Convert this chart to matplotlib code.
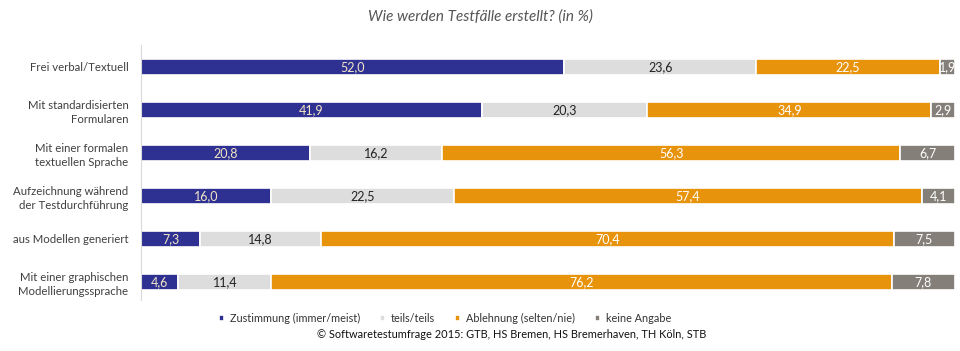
import numpy as np
import matplotlib.pyplot as plt

plt.rcParams['font.family'] = ['Lato', 'DejaVu Sans']

# Data
categories = ['Frei verbal/Textuell',
              'Mit standardisierten\nFormularen',
              'Mit einer formalen\ntextuellen Sprache',
              'Aufzeichnung während\nder Testdurchführung',
              'aus Modellen generiert',
              'Mit einer graphischen\nModellierungssprache']
zustimmung = [52.0, 41.9, 20.8, 16.0, 7.3, 4.6]
teils = [23.6, 20.3, 16.2, 22.5, 14.8, 11.4]
ablehnung = [22.5, 34.9, 56.3, 57.4, 70.4, 76.2]
keine = [1.9, 2.9, 6.7, 4.1, 7.5, 7.8]
series_names = ['Zustimmung (immer/meist)', 'teils/teils',
                'Ablehnung (selten/nie)', 'keine Angabe']

colors = ['#2E3192', '#DDDDDD', '#E8930C', '#847F78']
text_colors = ['#F2E6C4', '#222222', '#FFFFFF', '#FFFFFF']

fig = plt.figure(figsize=(9.6, 3.51), dpi=100)
ax = fig.add_axes([141/960, 1 - 300/351, 814/960, 255/351])

y = np.arange(len(categories))
left = np.zeros(len(categories))
handles = []
for vals, name, col, tcol in zip([zustimmung, teils, ablehnung, keine],
                                 series_names, colors, text_colors):
    vals = np.array(vals)
    bars = ax.barh(y, vals, left=left, height=0.38, color=col,
                   edgecolor='white', linewidth=1.2, label=name)
    handles.append(bars)
    for yi, l, v in zip(y, left, vals):
        ax.text(l + v / 2, yi, f'{v:.1f}'.replace('.', ','), ha='center',
                va='center', fontsize=9, color=tcol)
    left += vals

ax.set_xlim(0, 100)
ax.set_ylim(5.42, -0.51)
ax.set_yticks(y)
ax.set_yticklabels(categories, fontsize=8.2, color='#404040', linespacing=1.35)
ax.tick_params(axis='y', length=0, pad=9)
ax.set_xticks([])
for s in ['top', 'right', 'bottom']:
    ax.spines[s].set_visible(False)
ax.spines['left'].set_color('#D9D9D9')

fig.text(0.5, 1 - 17/351, 'Wie werden Testfälle erstellt? (in %)', ha='center',
         va='center', fontsize=11, style='italic', color='#555555')

leg = fig.legend(handles=handles, labels=series_names, loc='center',
                 bbox_to_anchor=(445/960, 1 - 318/351), ncol=4, frameon=False,
                 fontsize=7.8, handlelength=0.45, handleheight=0.45,
                 handletextpad=0.5, columnspacing=1.9)
for t in leg.get_texts():
    t.set_color('#333333')

fig.text(512/960, 1 - 335/351,
         '© Softwaretestumfrage 2015: GTB, HS Bremen, HS Bremerhaven, TH Köln, STB',
         ha='center', va='center', fontsize=7.9, color='#111111')

fig.savefig('out.png', dpi=100)
